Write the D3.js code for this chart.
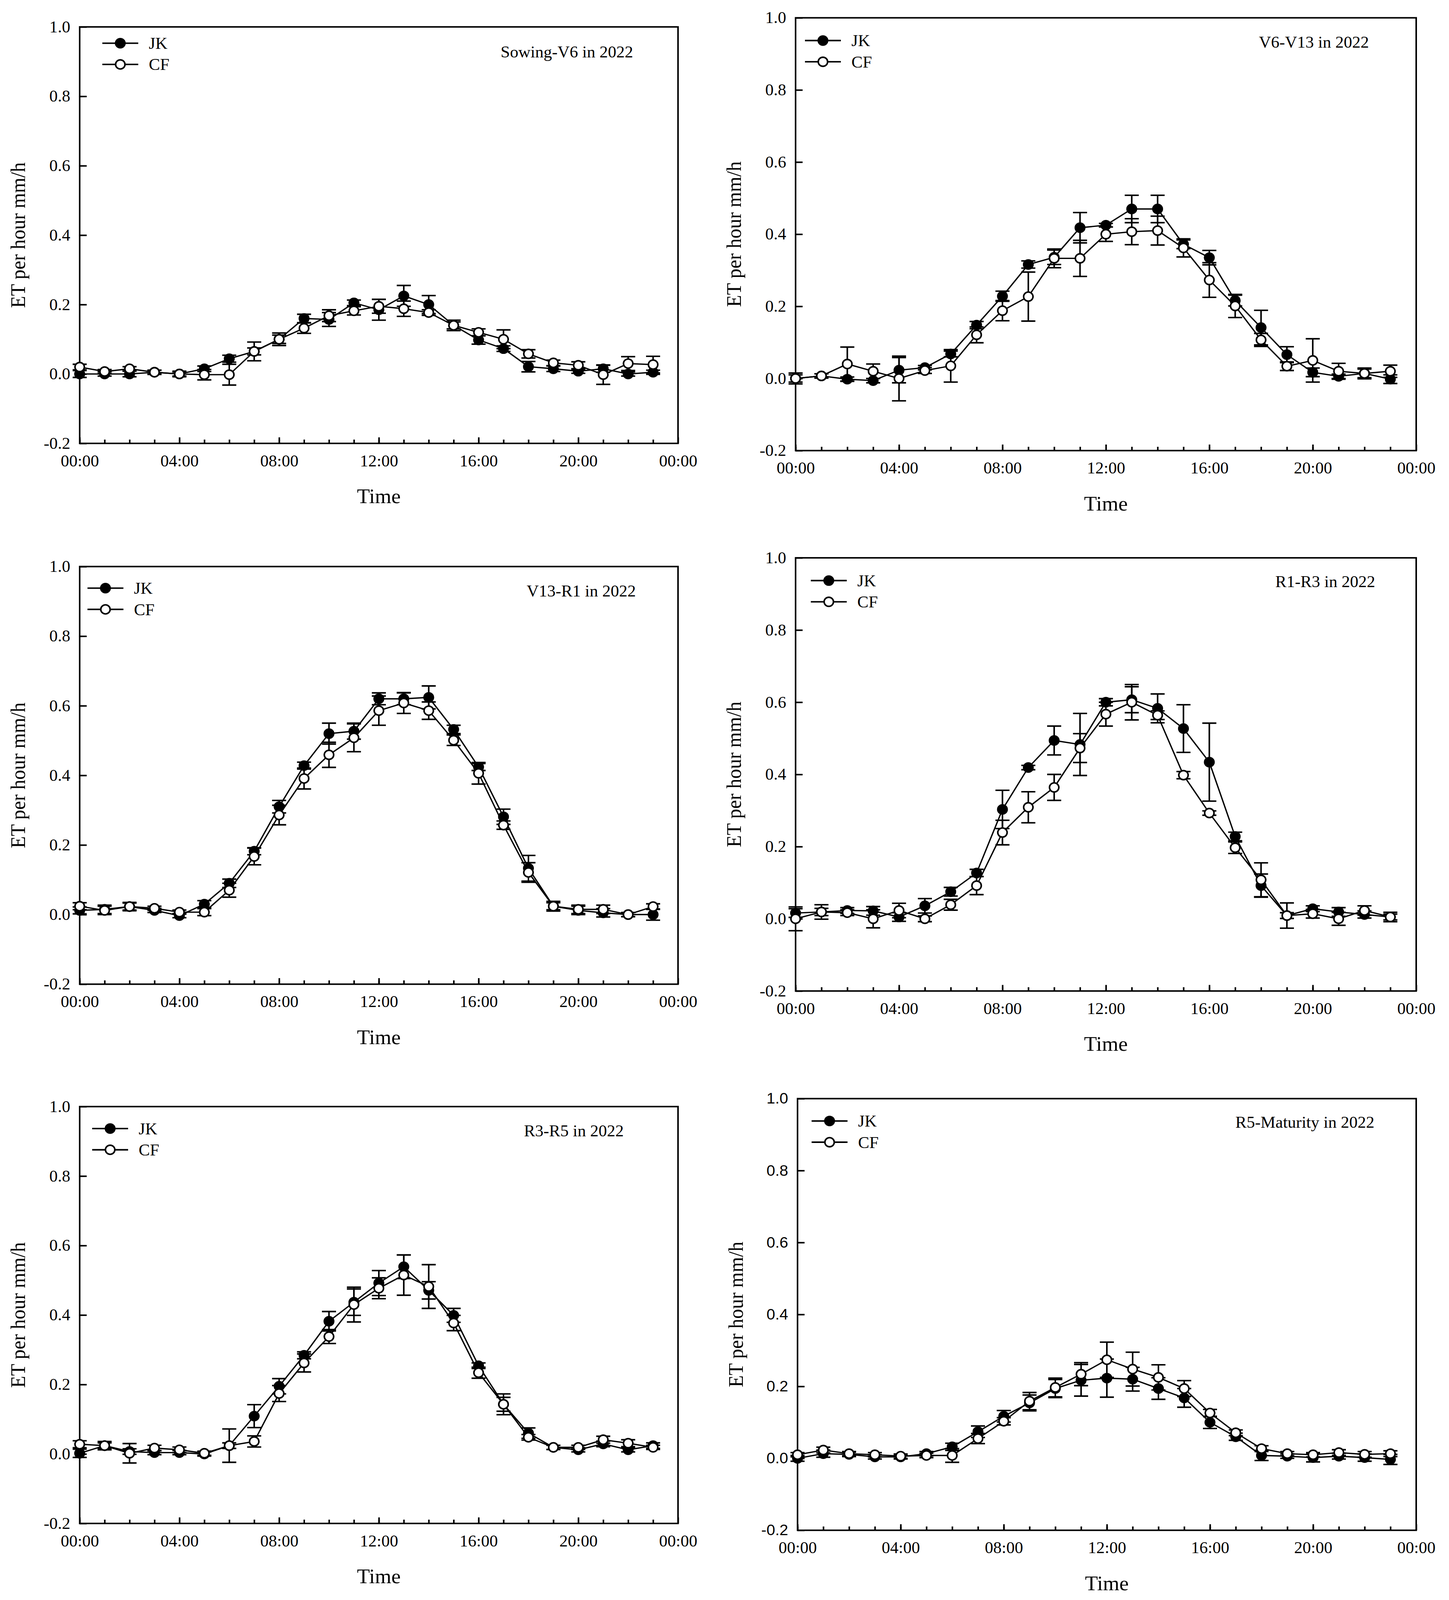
<!DOCTYPE html>
<html>
<head>
<meta charset="utf-8">
<script src="https://cdn.jsdelivr.net/npm/d3@7"></script>
<style>
  html, body { margin: 0; padding: 0; background: #fff; overflow: hidden; }
  svg { display: block; }
  text { font-family: "Liberation Serif", "Times New Roman", serif; fill: #000; }
</style>
</head>
<body>
<div id="chart"></div>
<script>
const svgWidth = 3710;
const svgHeight = 4222;

// hours of the day (x values) and axis labels
const hours = [0, 1, 2, 3, 4, 5, 6, 7, 8, 9, 10, 11, 12, 13, 14, 15, 16, 17, 18, 19, 20, 21, 22, 23];
const xMajorTicks = [0, 4, 8, 12, 16, 20, 24];
const xTickLabels = ["00:00", "04:00", "08:00", "12:00", "16:00", "20:00", "00:00"];
const yTicks = [-0.2, 0.0, 0.2, 0.4, 0.6, 0.8, 1.0];
const seriesNames = ["JK", "CF"];
const stageNames = ["Sowing-V6 in 2022", "V6-V13 in 2022", "V13-R1 in 2022",
  "R1-R3 in 2022", "R3-R5 in 2022", "R5-Maturity in 2022"];

// Sowing-V6
const sowingV6JK = [0.000, 0.000, 0.000, 0.005, 0.000, 0.015, 0.044, 0.065, 0.100, 0.160, 0.157, 0.205, 0.185, 0.225, 0.200, 0.140, 0.098, 0.073, 0.021, 0.015, 0.008, 0.015, 0.000, 0.005];
const sowingV6JKErr = [0.010, 0.006, 0.008, 0.006, 0.008, 0.008, 0.010, 0.010, 0.012, 0.012, 0.020, 0.008, 0.030, 0.030, 0.026, 0.015, 0.012, 0.008, 0.015, 0.008, 0.006, 0.010, 0.006, 0.006];
const sowingV6CF = [0.020, 0.007, 0.015, 0.005, 0.000, -0.002, -0.002, 0.065, 0.100, 0.132, 0.168, 0.182, 0.195, 0.188, 0.177, 0.140, 0.120, 0.100, 0.058, 0.032, 0.025, -0.002, 0.030, 0.027];
const sowingV6CFErr = [0.008, 0.006, 0.006, 0.006, 0.006, 0.015, 0.030, 0.027, 0.018, 0.015, 0.017, 0.012, 0.020, 0.022, 0.008, 0.010, 0.010, 0.027, 0.012, 0.008, 0.010, 0.028, 0.020, 0.024];

// V6-V13
const v6v13JK = [0.000, 0.007, -0.002, -0.006, 0.023, 0.030, 0.068, 0.148, 0.228, 0.316, 0.336, 0.418, 0.425, 0.470, 0.470, 0.372, 0.335, 0.216, 0.141, 0.066, 0.017, 0.006, 0.014, -0.002];
const v6v13JKErr = [0.015, 0.006, 0.006, 0.006, 0.035, 0.006, 0.008, 0.010, 0.014, 0.010, 0.020, 0.042, 0.005, 0.038, 0.038, 0.012, 0.020, 0.015, 0.048, 0.022, 0.012, 0.006, 0.012, 0.012];
const v6v13CF = [0.000, 0.007, 0.040, 0.020, 0.000, 0.022, 0.035, 0.121, 0.188, 0.227, 0.333, 0.333, 0.400, 0.407, 0.410, 0.362, 0.273, 0.201, 0.107, 0.034, 0.050, 0.020, 0.014, 0.020];
const v6v13CFErr = [0.010, 0.006, 0.047, 0.020, 0.062, 0.008, 0.045, 0.022, 0.028, 0.068, 0.026, 0.050, 0.020, 0.036, 0.040, 0.025, 0.048, 0.032, 0.018, 0.012, 0.060, 0.022, 0.015, 0.017];

// V13-R1
const v13r1JK = [0.012, 0.015, 0.023, 0.012, -0.003, 0.030, 0.090, 0.182, 0.310, 0.428, 0.520, 0.527, 0.620, 0.620, 0.624, 0.532, 0.424, 0.281, 0.133, 0.024, 0.012, 0.005, 0.000, 0.000];
const v13r1JKErr = [0.010, 0.012, 0.012, 0.006, 0.006, 0.010, 0.012, 0.010, 0.018, 0.010, 0.030, 0.023, 0.017, 0.017, 0.033, 0.012, 0.010, 0.022, 0.037, 0.010, 0.012, 0.012, 0.006, 0.016];
const v13r1CF = [0.024, 0.012, 0.023, 0.018, 0.007, 0.007, 0.070, 0.167, 0.286, 0.391, 0.459, 0.508, 0.586, 0.608, 0.586, 0.501, 0.406, 0.257, 0.121, 0.024, 0.015, 0.015, 0.000, 0.023];
const v13r1CFErr = [0.010, 0.012, 0.010, 0.006, 0.006, 0.010, 0.020, 0.024, 0.028, 0.030, 0.036, 0.040, 0.042, 0.030, 0.025, 0.015, 0.031, 0.012, 0.028, 0.014, 0.012, 0.012, 0.006, 0.008];

// R1-R3
const r1r3JK = [0.016, 0.019, 0.023, 0.022, 0.005, 0.036, 0.075, 0.127, 0.303, 0.419, 0.494, 0.483, 0.600, 0.607, 0.583, 0.527, 0.434, 0.228, 0.092, 0.009, 0.028, 0.019, 0.012, 0.005];
const r1r3JKErr = [0.012, 0.010, 0.008, 0.012, 0.012, 0.020, 0.012, 0.010, 0.053, 0.006, 0.040, 0.086, 0.010, 0.036, 0.040, 0.066, 0.108, 0.012, 0.032, 0.008, 0.008, 0.012, 0.010, 0.008];
const r1r3CF = [0.000, 0.019, 0.017, 0.000, 0.023, 0.000, 0.039, 0.092, 0.239, 0.309, 0.364, 0.473, 0.567, 0.600, 0.564, 0.398, 0.293, 0.197, 0.108, 0.009, 0.014, 0.000, 0.023, 0.005];
const r1r3CFErr = [0.033, 0.020, 0.008, 0.025, 0.020, 0.008, 0.015, 0.025, 0.034, 0.043, 0.036, 0.040, 0.033, 0.049, 0.012, 0.010, 0.006, 0.016, 0.047, 0.035, 0.012, 0.018, 0.013, 0.013];

// R3-R5
const r3r5JK = [0.002, 0.024, 0.007, 0.004, 0.004, 0.000, 0.024, 0.109, 0.195, 0.284, 0.382, 0.437, 0.492, 0.539, 0.471, 0.399, 0.254, 0.143, 0.060, 0.019, 0.012, 0.029, 0.012, 0.024];
const r3r5JKErr = [0.012, 0.008, 0.008, 0.006, 0.006, 0.006, 0.008, 0.033, 0.022, 0.010, 0.028, 0.038, 0.036, 0.034, 0.025, 0.020, 0.008, 0.030, 0.015, 0.006, 0.006, 0.008, 0.006, 0.008];
const r3r5CF = [0.028, 0.024, 0.002, 0.017, 0.012, 0.002, 0.024, 0.036, 0.174, 0.262, 0.338, 0.430, 0.477, 0.515, 0.482, 0.377, 0.234, 0.143, 0.048, 0.019, 0.019, 0.041, 0.031, 0.019];
const r3r5CFErr = [0.010, 0.012, 0.028, 0.008, 0.008, 0.006, 0.048, 0.016, 0.023, 0.026, 0.020, 0.050, 0.030, 0.058, 0.063, 0.022, 0.016, 0.020, 0.008, 0.006, 0.006, 0.010, 0.010, 0.006];

// R5-Maturity
const r5MatJK = [0.000, 0.013, 0.011, 0.004, 0.004, 0.013, 0.032, 0.074, 0.117, 0.154, 0.194, 0.217, 0.223, 0.220, 0.194, 0.168, 0.100, 0.060, 0.008, 0.006, 0.002, 0.006, 0.002, -0.003];
const r5MatJKErr = [0.008, 0.010, 0.006, 0.006, 0.006, 0.006, 0.010, 0.016, 0.016, 0.022, 0.025, 0.044, 0.053, 0.033, 0.030, 0.026, 0.017, 0.010, 0.014, 0.006, 0.012, 0.008, 0.010, 0.014];
const r5MatCF = [0.010, 0.023, 0.013, 0.010, 0.006, 0.008, 0.008, 0.055, 0.103, 0.159, 0.197, 0.234, 0.274, 0.248, 0.225, 0.194, 0.126, 0.071, 0.027, 0.013, 0.010, 0.016, 0.011, 0.013];
const r5MatCFErr = [0.006, 0.008, 0.006, 0.006, 0.006, 0.006, 0.019, 0.014, 0.010, 0.024, 0.026, 0.032, 0.049, 0.047, 0.035, 0.022, 0.010, 0.008, 0.008, 0.006, 0.006, 0.008, 0.008, 0.008];

// panel frames (pixels) and label offsets
const panels = [
  { left: 204, right: 1736, top: 71, bottom: 1170, legX: 104, legY: 43, stageR: 115, stageY: 81,
    jk: sowingV6JK, jkErr: sowingV6JKErr, cf: sowingV6CF, cfErr: sowingV6CFErr },
  { left: 2037, right: 3626, top: 47, bottom: 1189, legX: 70, legY: 60, stageR: 121, stageY: 79,
    jk: v6v13JK, jkErr: v6v13JKErr, cf: v6v13CF, cfErr: v6v13CFErr },
  { left: 204, right: 1736, top: 1495, bottom: 2597, legX: 66, legY: 57, stageR: 108, stageY: 79,
    jk: v13r1JK, jkErr: v13r1JKErr, cf: v13r1CF, cfErr: v13r1CFErr },
  { left: 2037, right: 3626, top: 1472, bottom: 2615, legX: 85, legY: 60, stageR: 105, stageY: 77,
    jk: r1r3JK, jkErr: r1r3JKErr, cf: r1r3CF, cfErr: r1r3CFErr },
  { left: 204, right: 1736, top: 2920, bottom: 4020, legX: 78, legY: 58, stageR: 139, stageY: 79,
    jk: r3r5JK, jkErr: r3r5JKErr, cf: r3r5CF, cfErr: r3r5CFErr },
  { left: 2042, right: 3626, top: 2899, bottom: 4038, legX: 82, legY: 59, stageR: 107, stageY: 77,
    jk: r5MatJK, jkErr: r5MatJKErr, cf: r5MatCF, cfErr: r5MatCFErr, sansTicks: true }
];

// the drawing is laid out on a 3710x4222 grid and stretched to whatever the viewport is
const svg = d3.select("#chart")
  .append("svg")
  .attr("viewBox", `0 0 ${svgWidth} ${svgHeight}`)
  .attr("preserveAspectRatio", "none")
  .style("width", "100vw")
  .style("height", "100vh");

svg.append("rect")
  .attr("width", svgWidth)
  .attr("height", svgHeight)
  .attr("fill", "#fff");

const markerR = 12;
const capHalf = 18;

panels.forEach(function (p, i) {
  const g = svg.append("g");

  const xScale = d3.scaleLinear().domain([0, 24]).range([p.left, p.right]);
  const yScale = d3.scaleLinear().domain([-0.2, 1.0]).range([p.bottom, p.top]);

  // y axis, ticks pointing inward
  const yAxis = g.append("g")
    .attr("transform", `translate(${p.left},0)`)
    .call(d3.axisLeft(yScale)
      .tickValues(yTicks)
      .tickFormat(d => d.toFixed(1))
      .tickSizeInner(-18)
      .tickSizeOuter(0)
      .tickPadding(24));
  yAxis.select(".domain").remove();
  yAxis.selectAll("line").attr("stroke", "#000").attr("stroke-width", 4);
  yAxis.selectAll("text")
    .attr("font-size", p.sansTicks ? 40 : 43)
    .style("font-family", p.sansTicks ? '"Liberation Sans", Arial, sans-serif' : null);

  // x axis: minor hourly ticks, then labelled 4-hour ticks
  const xMinor = g.append("g")
    .attr("transform", `translate(0,${p.bottom})`)
    .call(d3.axisBottom(xScale)
      .tickValues(hours)
      .tickFormat("")
      .tickSizeInner(-10)
      .tickSizeOuter(0));
  xMinor.select(".domain").remove();
  xMinor.selectAll("line").attr("stroke", "#000").attr("stroke-width", 4);

  const xMajor = g.append("g")
    .attr("transform", `translate(0,${p.bottom})`)
    .call(d3.axisBottom(xScale)
      .tickValues(xMajorTicks)
      .tickFormat((d, k) => xTickLabels[k])
      .tickSizeInner(-16)
      .tickSizeOuter(0)
      .tickPadding(30));
  xMajor.select(".domain").remove();
  xMajor.selectAll("line").attr("stroke", "#000").attr("stroke-width", 4);
  xMajor.selectAll("text").attr("font-size", 43);

  // frame
  g.append("rect")
    .attr("x", p.left)
    .attr("y", p.top)
    .attr("width", p.right - p.left)
    .attr("height", p.bottom - p.top)
    .attr("fill", "none")
    .attr("stroke", "#000")
    .attr("stroke-width", 4);

  // axis titles
  g.append("text")
    .attr("transform", `translate(${p.left - 158},${(p.top + p.bottom) / 2}) rotate(-90)`)
    .attr("text-anchor", "middle")
    .attr("dominant-baseline", "central")
    .attr("font-size", 52)
    .text("ET per hour mm/h");

  g.append("text")
    .attr("x", (p.left + p.right) / 2)
    .attr("y", p.bottom + 158)
    .attr("text-anchor", "middle")
    .attr("font-size", 54)
    .text("Time");

  g.append("text")
    .attr("x", p.right - p.stageR)
    .attr("y", p.top + p.stageY)
    .attr("text-anchor", "end")
    .attr("font-size", 43)
    .text(stageNames[i]);

  // series: JK (filled) first, CF (open) on top
  const series = [
    { name: seriesNames[0], values: p.jk, errs: p.jkErr, fill: "#000" },
    { name: seriesNames[1], values: p.cf, errs: p.cfErr, fill: "#fff" }
  ];

  const line = d3.line()
    .x(d => xScale(d.h))
    .y(d => yScale(d.v));

  series.forEach(function (s, si) {
    const pts = hours.map((h, k) => ({ h: h, v: s.values[k], e: s.errs[k] }));
    const sg = g.append("g");

    const bars = sg.selectAll("g.err")
      .data(pts)
      .enter()
      .append("g")
      .attr("stroke", "#000")
      .attr("stroke-width", 4);
    bars.append("line")
      .attr("x1", d => xScale(d.h)).attr("x2", d => xScale(d.h))
      .attr("y1", d => yScale(d.v - d.e)).attr("y2", d => yScale(d.v + d.e));
    bars.append("line")
      .attr("x1", d => xScale(d.h) - capHalf).attr("x2", d => xScale(d.h) + capHalf)
      .attr("y1", d => yScale(d.v + d.e)).attr("y2", d => yScale(d.v + d.e));
    bars.append("line")
      .attr("x1", d => xScale(d.h) - capHalf).attr("x2", d => xScale(d.h) + capHalf)
      .attr("y1", d => yScale(d.v - d.e)).attr("y2", d => yScale(d.v - d.e));

    sg.append("path")
      .datum(pts)
      .attr("fill", "none")
      .attr("stroke", "#000")
      .attr("stroke-width", 3.5)
      .attr("d", line);

    sg.selectAll("circle")
      .data(pts)
      .enter()
      .append("circle")
      .attr("cx", d => xScale(d.h))
      .attr("cy", d => yScale(d.v))
      .attr("r", markerR)
      .attr("fill", s.fill)
      .attr("stroke", "#000")
      .attr("stroke-width", 4);

    // legend row
    const ly = p.top + p.legY + si * 56;
    const lx = p.left + p.legX;
    g.append("line")
      .attr("x1", lx - 46).attr("x2", lx + 46)
      .attr("y1", ly).attr("y2", ly)
      .attr("stroke", "#000")
      .attr("stroke-width", 4);
    g.append("circle")
      .attr("cx", lx).attr("cy", ly).attr("r", markerR)
      .attr("fill", s.fill)
      .attr("stroke", "#000")
      .attr("stroke-width", 4);
    g.append("text")
      .attr("x", lx + 73)
      .attr("y", ly + 15)
      .attr("font-size", 43)
      .text(s.name);
  });
});
</script>
</body>
</html>
